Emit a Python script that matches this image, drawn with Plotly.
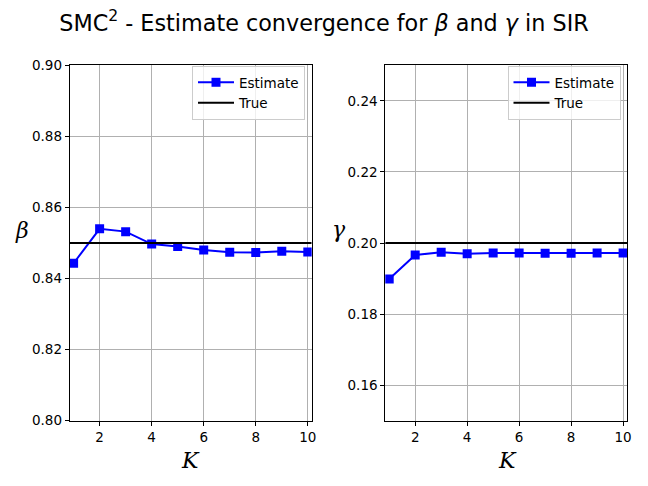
import plotly.graph_objects as go

K = [1, 2, 3, 4, 5, 6, 7, 8, 9, 10]
beta_est = [0.8443, 0.8540, 0.8532, 0.8497, 0.8490, 0.8480, 0.8474, 0.8473, 0.8477, 0.8475]
gamma_est = [0.1899, 0.1966, 0.1974, 0.1970, 0.1972, 0.1972, 0.1971, 0.1971, 0.1972, 0.1972]
beta_true = 0.85
gamma_true = 0.20
x_range = [0.85, 10.15]
beta_range = [0.80, 0.90]
gamma_range = [0.15, 0.25]
beta_ticks = [0.80, 0.82, 0.84, 0.86, 0.88, 0.90]
gamma_ticks = [0.16, 0.18, 0.20, 0.22, 0.24]
x_ticks = [2, 4, 6, 8, 10]

W, H = 648, 486
OFF = 8  # page body margin


def px(xp):
    return (xp - OFF) / W


def py(yp):
    return 1 - (yp - OFF) / H


BLUE = "#0000ff"
TICKFONT = dict(family="DejaVu Sans", size=13.5, color="black")

fig = go.Figure()


def add_panel(xa, ya, est, true, legend):
    fig.add_trace(go.Scatter(
        x=K, y=est, mode="lines+markers", name="Estimate",
        line=dict(color=BLUE, width=2),
        marker=dict(symbol="square", size=9, color=BLUE),
        xaxis=xa, yaxis=ya, legend=legend))
    fig.add_trace(go.Scatter(
        x=x_range, y=[true, true], mode="lines", name="True",
        line=dict(color="black", width=2),
        xaxis=xa, yaxis=ya, legend=legend))


add_panel("x", "y", beta_est, beta_true, "legend")
add_panel("x2", "y2", gamma_est, gamma_true, "legend2")

ydom = [py(420.7), py(65.3)]
axis_common = dict(
    showline=True, linecolor="black", linewidth=1, mirror=True,
    ticks="outside", ticklen=4, tickwidth=1, tickcolor="black",
    showgrid=True, gridcolor="#b0b0b0", gridwidth=0.8,
    zeroline=False, tickfont=TICKFONT, automargin=False,
)

legend_common = dict(
    bgcolor="rgba(255,255,255,0.8)", bordercolor="#cccccc", borderwidth=1,
    font=dict(family="DejaVu Sans", size=13.5, color="black"),
    xanchor="left", yanchor="top", tracegroupgap=0, itemwidth=36,
)

fig.update_layout(
    width=W, height=H,
    margin=dict(l=0, r=0, t=0, b=0, autoexpand=False),
    paper_bgcolor="white", plot_bgcolor="white",
    showlegend=True,
    xaxis=dict(domain=[px(69.7), px(311.7)], range=x_range, tickvals=x_ticks,
               anchor="y", **axis_common),
    yaxis=dict(domain=ydom, range=beta_range, tickvals=beta_ticks,
               tickformat=".2f", anchor="x", **axis_common),
    xaxis2=dict(domain=[px(385.3), px(627.0)], range=x_range, tickvals=x_ticks,
                anchor="y2", **axis_common),
    yaxis2=dict(domain=ydom, range=gamma_range, tickvals=gamma_ticks,
                tickformat=".2f", anchor="x2", **axis_common),
    legend=dict(x=px(192), y=1 - 58 / H, **legend_common),
    legend2=dict(x=px(507.5), y=1 - 58 / H, **legend_common),
    title=dict(
        text="SMC<sup>2</sup> - Estimate convergence for <i>β</i> and <i>γ</i> in SIR",
        x=px(324), xanchor="center", y=py(23), yanchor="middle",
        font=dict(family="DejaVu Sans", size=22.3, color="black")),
)

label_font = dict(family="DejaVu Serif", size=22, color="black")
for txt, xp, yp in [("<i>β</i>", 22, 230), ("<i>γ</i>", 339, 229),
                    ("<i>K</i>", 190, 460), ("<i>K</i>", 507, 460)]:
    fig.add_annotation(text=txt, x=px(xp), y=py(yp), xref="paper", yref="paper",
                       showarrow=False, font=label_font,
                       xanchor="center", yanchor="middle")

fig.write_html("out.html")
